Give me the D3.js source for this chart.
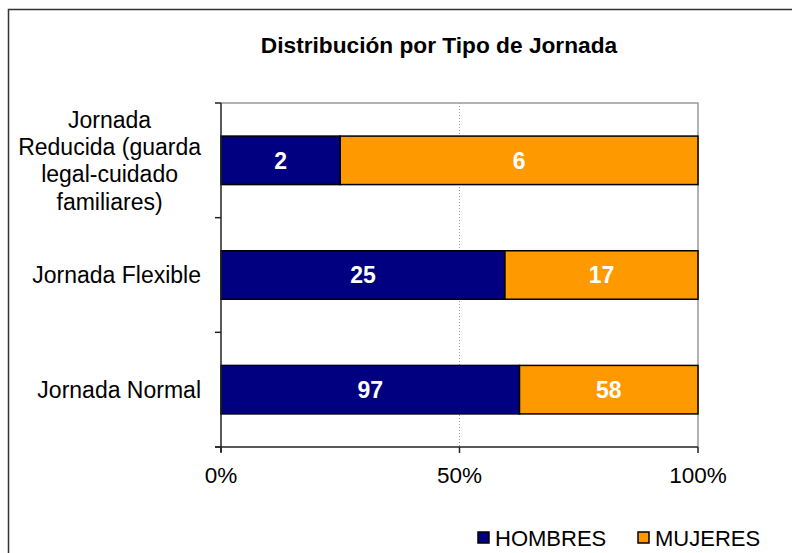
<!DOCTYPE html>
<html>
<head>
<meta charset="utf-8">
<script src="https://cdn.jsdelivr.net/npm/d3@7"></script>
<style>
  html, body { margin: 0; padding: 0; background: #fff; }
  svg { display: block; font-family: "Liberation Sans", Arial, sans-serif; }
</style>
</head>
<body>
<svg class="chart" width="792" height="553"></svg>
<script>

// data
const categories = [
    ['Jornada', 'Reducida (guarda', 'legal-cuidado', 'familiares)'],
    ['Jornada Flexible'],
    ['Jornada Normal']
];
const hombres = [2, 25, 97];
const mujeres = [6, 17, 58];
const seriesNames = ['HOMBRES', 'MUJERES'];
const seriesColors = ['#000080', '#FF9900'];
const xTicks = [0, 0.5, 1];

const svg = d3.select('.chart');

const plot = { left: 221, right: 698, top: 103, bottom: 447 };

// outer frame
svg.append('rect')
    .attr('x', 8.5).attr('y', 9.5)
    .attr('width', 800).attr('height', 560)
    .attr('fill', 'none')
    .attr('stroke', '#333')
    .attr('stroke-width', 1.5);

svg.append('text')
    .attr('x', 439).attr('y', 53)
    .attr('text-anchor', 'middle')
    .attr('font-weight', 'bold')
    .attr('font-size', 22.7)
    .text('Distribución por Tipo de Jornada');

const x = d3.scaleLinear().domain([0, 1]).range([plot.left, plot.right]);

const y = d3.scaleBand()
    .domain(d3.range(categories.length))
    .range([plot.top, plot.bottom])
    .paddingInner(0.577)
    .paddingOuter(0.577 / 2);

const rows = categories.map((c, i) => {
    const total = hombres[i] + mujeres[i];
    return { i: i, values: [hombres[i], mujeres[i]], total: total };
});

// plot border (top and right in gray)
svg.append('path')
    .attr('d', `M${plot.left},${plot.top}H${plot.right}V${plot.bottom}`)
    .attr('fill', 'none')
    .attr('stroke', '#999')
    .attr('stroke-width', 1.5);

// 50% grid line
svg.append('line')
    .attr('x1', x(0.5)).attr('x2', x(0.5))
    .attr('y1', plot.top).attr('y2', plot.bottom)
    .attr('stroke', '#999')
    .attr('stroke-dasharray', '1,2');

// bars
const stack = rows.map(r => {
    let acc = 0;
    return r.values.map((v, s) => {
        const seg = { i: r.i, s: s, v: v, x0: acc / r.total, x1: (acc + v) / r.total };
        acc += v;
        return seg;
    });
}).flat();

const bars = svg.append('g');

bars.selectAll('rect')
    .data(stack)
    .join('rect')
    .attr('x', d => x(d.x0))
    .attr('y', d => y(d.i))
    .attr('width', d => x(d.x1) - x(d.x0))
    .attr('height', y.bandwidth())
    .attr('fill', d => seriesColors[d.s])
    .attr('stroke', '#000')
    .attr('stroke-width', 1.5);

bars.selectAll('text')
    .data(stack)
    .join('text')
    .attr('x', d => (x(d.x0) + x(d.x1)) / 2)
    .attr('y', d => y(d.i) + y.bandwidth() / 2)
    .attr('dy', '0.36em')
    .attr('text-anchor', 'middle')
    .attr('fill', '#fff')
    .attr('font-weight', 'bold')
    .attr('font-size', 23)
    .text(d => d.v);

// y axis with ticks at category boundaries
const step = y.step();
const yBounds = d3.range(categories.length + 1).map(k => plot.top + k * step);

const yAxis = svg.append('g');
yAxis.append('line')
    .attr('x1', plot.left).attr('x2', plot.left)
    .attr('y1', plot.top).attr('y2', plot.bottom + 5)
    .attr('stroke', '#222').attr('stroke-width', 1.5);
yAxis.selectAll('line.tick')
    .data(yBounds)
    .join('line')
    .attr('class', 'tick')
    .attr('x1', plot.left - 6).attr('x2', plot.left)
    .attr('y1', d => d).attr('y2', d => d)
    .attr('stroke', '#222').attr('stroke-width', 1.5);

// category labels
const labels = svg.append('g')
    .attr('font-size', 23);

categories.forEach((lines, i) => {
    const t = labels.append('text')
        .attr('text-anchor', 'middle');
    const lh = 27.3;
    const cy = y(i) + y.bandwidth() / 2 - (lines.length - 1) * lh / 2;
    lines.forEach((ln, k) => {
        t.append('tspan')
            .attr('y', cy + k * lh)
            .attr('dy', '0.36em')
            .text(ln);
    });
    // center the block so its widest line ends at x = 200
    const w = d3.max(t.selectAll('tspan').nodes(), n => n.getComputedTextLength());
    t.selectAll('tspan').attr('x', 201 - w / 2);
});

// x axis
const xAxis = svg.append('g');
xAxis.append('line')
    .attr('x1', plot.left - 6).attr('x2', plot.right)
    .attr('y1', plot.bottom).attr('y2', plot.bottom)
    .attr('stroke', '#222').attr('stroke-width', 1.5);
xAxis.selectAll('line.tick')
    .data(xTicks)
    .join('line')
    .attr('class', 'tick')
    .attr('x1', d => x(d)).attr('x2', d => x(d))
    .attr('y1', plot.bottom).attr('y2', plot.bottom + 6)
    .attr('stroke', '#222').attr('stroke-width', 1.5);
xAxis.selectAll('text')
    .data(xTicks)
    .join('text')
    .attr('x', d => x(d))
    .attr('y', 483)
    .attr('text-anchor', 'middle')
    .attr('font-size', 22.5)
    .text(d => d3.format('.0%')(d));

// legend
const legendX = [478, 638];
const legend = svg.append('g')
    .selectAll('g')
    .data(seriesNames)
    .join('g')
    .attr('transform', (d, i) => `translate(${legendX[i]},532)`);

legend.append('rect')
    .attr('width', 11).attr('height', 11)
    .attr('fill', (d, i) => seriesColors[i])
    .attr('stroke', '#000')
    .attr('stroke-width', 1.5);

legend.append('text')
    .attr('x', 17).attr('y', 13.5)
    .attr('font-size', 22)
    .text(d => d);

</script>
</body>
</html>
